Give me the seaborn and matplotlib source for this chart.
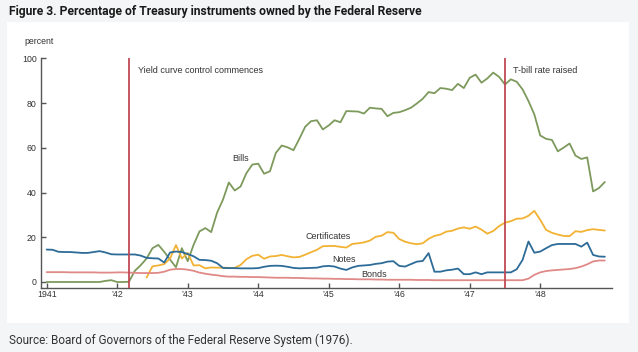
import numpy as np
import pandas as pd
import matplotlib
matplotlib.use("Agg")
import matplotlib.pyplot as plt
import seaborn as sns
from matplotlib import font_manager as fm
from matplotlib.patches import Rectangle

# ---------------- data (monthly, Jan 1941 .. Dec 1948) ----------------
start_year = 1941
n_months = 96

bills = [0, 0, 0, 0, 0, 0, 0, 0, 0, 0, 0.5, 0.8, 0, 0, 0.1, 5.0, 7.5, 10.5, 15.1, 16.6,
         13.5, 10.0, 6.6, 15.1, 9.3, 16.6, 22.6, 24.1, 22.3, 31.0, 36.8, 44.5, 40.9, 42.7,
         48.7, 52.5, 52.9, 48.4, 49.5, 57.7, 61.0, 60.2, 58.9, 64.0, 69.4, 71.9, 72.3, 68.2,
         70.0, 72.3, 71.4, 76.4, 76.3, 76.2, 75.3, 77.9, 77.6, 77.4, 74.1, 75.6, 75.9, 76.8,
         77.9, 79.8, 81.9, 84.9, 84.4, 86.7, 86.4, 85.8, 88.6, 86.7, 91.3, 92.7, 89.1, 91.0,
         93.6, 91.7, 88.3, 90.6, 89.5, 86.1, 80.9, 74.9, 65.5, 64.0, 63.5, 58.4, 60.1, 61.9,
         56.5, 55.0, 55.7, 40.5, 42.0, 44.7]

certificates = [np.nan] * 17 + [
    2.0, 7.0, 7.4, 8.0, 10.5, 16.5, 10.5, 13.0, 7.4, 7.5, 6.1, 6.5, 6.4, 6.4, 6.3, 6.3,
    7.6, 10.2, 11.7, 12.2, 10.4, 11.4, 11.6, 12.1, 11.5, 11.0, 11.2, 12.2, 13.3, 14.4,
    16.0, 16.1, 16.1, 15.7, 15.4, 17.0, 17.3, 17.7, 18.5, 20.2, 20.7, 22.3, 22.0, 19.2,
    18.0, 17.3, 16.9, 17.3, 19.3, 20.6, 21.2, 22.5, 22.9, 23.9, 24.4, 23.8, 24.8, 23.4,
    21.6, 22.8, 25.0, 26.5, 27.2, 28.3, 28.4, 29.6, 31.8, 27.8, 23.3, 22.0, 21.2, 20.6,
    20.5, 22.7, 22.4, 23.2, 23.6, 23.3, 23.0]

notes = [14.5, 14.4, 13.5, 13.4, 13.4, 13.2, 13.0, 13.0, 13.4, 13.8, 13.2, 12.4, 12.3, 12.3,
         12.3, 12.3, 11.8, 10.8, 10.6, 10.5, 8.7, 13.2, 13.6, 13.4, 12.5, 11.5, 9.9, 9.8,
         9.5, 8.4, 6.3, 6.2, 6.2, 6.1, 6.1, 6.1, 6.2, 6.8, 7.2, 7.3, 7.2, 6.8, 6.3, 6.1,
         6.2, 6.3, 6.4, 7.0, 7.2, 6.9, 6.0, 5.4, 6.5, 7.2, 7.4, 7.6, 8.1, 8.4, 9.1, 9.3,
         7.2, 6.9, 8.0, 9.1, 9.4, 12.9, 4.6, 4.6, 5.2, 5.5, 6.0, 3.5, 3.5, 4.3, 3.5, 4.3,
         4.3, 4.3, 4.3, 4.3, 5.7, 9.9, 18.1, 13.1, 13.6, 15.1, 16.5, 17.0, 17.0, 17.0, 17.0,
         15.8, 17.6, 12.1, 11.4, 11.3]

bonds = [4.4, 4.4, 4.4, 4.4, 4.3, 4.3, 4.3, 4.3, 4.3, 4.2, 4.2, 4.2, 4.3, 4.3, 4.2, 4.1,
         4.0, 4.0, 4.0, 4.1, 4.6, 5.5, 5.8, 5.8, 5.5, 5.0, 4.2, 3.7, 3.3, 3.0, 2.6, 2.4,
         2.4, 2.3, 2.3, 2.2, 2.2, 2.1, 2.0, 1.9, 1.9, 1.9, 1.8, 1.8, 1.7, 1.6, 1.6, 1.5,
         1.5, 1.4, 1.4, 1.3, 1.3, 1.2, 1.2, 1.2, 1.1, 1.1, 1.0, 1.0, 1.0, 1.0, 1.0, 0.9,
         0.9, 0.9, 0.8, 0.8, 0.8, 0.8, 0.8, 0.8, 0.8, 0.8, 0.8, 0.8, 0.8, 0.8, 0.8, 0.8,
         0.8, 0.8, 1.5, 3.2, 4.3, 4.9, 5.2, 5.4, 5.6, 5.8, 6.2, 6.9, 7.9, 9.2, 9.6, 9.6]

series_names = ["Bills", "Certificates", "Notes", "Bonds"]
series_colors = ["#7d9a5c", "#f2b233", "#2d6b98", "#e08a88"]

event_dates = [1942 + 2 / 12, 1947 + 6 / 12]   # Mar 1942, Jul 1947
event_labels = ["Yield curve control commences", "T-bill rate raised"]

x_ticks = list(range(1941, 1949))
x_tick_labels = ["1941", "\u201942", "\u201943", "\u201944", "\u201945", "\u201946", "\u201947", "\u201948"]
y_ticks = [0, 20, 40, 60, 80, 100]

title = "Figure 3. Percentage of Treasury instruments owned by the Federal Reserve"
source = "Source: Board of Governors of the Federal Reserve System (1976)."

# ---------------- build table ----------------
t = start_year + np.arange(n_months) / 12.0
frames = []
for name, vals in zip(series_names, [bills, certificates, notes, bonds]):
    frames.append(pd.DataFrame({"date": t, "value": vals, "series": name}))
df = pd.concat(frames, ignore_index=True)

# ---------------- fonts ----------------
sns.set_theme(style="white")
names = {f.name for f in fm.fontManager.ttflist}
narrow = "Liberation Sans Narrow" if "Liberation Sans Narrow" in names else "Roboto"
plt.rcParams["font.family"] = ["Liberation Sans", "DejaVu Sans"]

fig = plt.figure(figsize=(6.38, 3.52), dpi=100)
fig.patch.set_facecolor("#f3f5f6")
fig.patches.append(Rectangle((7 / 638, 1 - 323 / 352), (629 - 7) / 638, (323 - 22) / 352,
                             transform=fig.transFigure, facecolor="white",
                             edgecolor="none", zorder=-10))

ax = fig.add_axes([41 / 638, 1 - 287.7 / 352, (611.7 - 41) / 638, (287.7 - 58.3) / 352])
ax.set_facecolor("none")
ax.set_zorder(1)

sns.lineplot(data=df, x="date", y="value", hue="series", hue_order=series_names,
             palette=series_colors, linewidth=1.3, legend=False, ax=ax, zorder=3)

for d in event_dates:
    ax.axvline(d, color="#c04a55", linewidth=1.3, zorder=4)

ax.set_xlim(1940.919, 1949.014)
ax.set_ylim(-2.55, 100)
ax.set_xticks(x_ticks)
ax.set_xticklabels(x_tick_labels)
ax.set_yticks(y_ticks)
ax.set_xlabel("")
ax.set_ylabel("")

for s in ["top", "right"]:
    ax.spines[s].set_visible(False)
for s in ["left", "bottom"]:
    ax.spines[s].set_color("#555555")
    ax.spines[s].set_linewidth(1.0)
ax.tick_params(axis="both", direction="in", length=3.5, width=1.0, color="#555555",
               labelsize=6.3, labelcolor="#333333")
ax.tick_params(axis="x", pad=2)
ax.tick_params(axis="y", pad=3)
ax.tick_params(bottom=True, left=True)

txt = dict(fontsize=6.5, color="#333333")
ax.text(1942.295, 94.6, event_labels[0], ha="left", va="center", **txt)
ax.text(1947.61, 94.6, event_labels[1], ha="left", va="center", **txt)
ax.text(1943.756, 55.0, "Bills", ha="center", va="center", **txt)
ax.text(1944.99, 20.3, "Certificates", ha="center", va="center", **txt)
ax.text(1945.21, 10.2, "Notes", ha="center", va="center", **txt)
ax.text(1945.65, 3.5, "Bonds", ha="center", va="center", **txt)

fig.text(24 / 638, 1 - 42 / 352, "percent", ha="left", va="center", fontsize=6.3, color="#333333")

fig.text(9 / 638, 1 - 12 / 352, title, ha="left", va="center", fontsize=8.7,
         fontweight="bold", family=[narrow, "DejaVu Sans"], color="#1a1a1a")
fig.text(9 / 638, 1 - 340 / 352, source, ha="left", va="center", fontsize=8.5,
         family=[narrow, "DejaVu Sans"], color="#333333")

fig.savefig("out.png", dpi=100, facecolor=fig.get_facecolor())
